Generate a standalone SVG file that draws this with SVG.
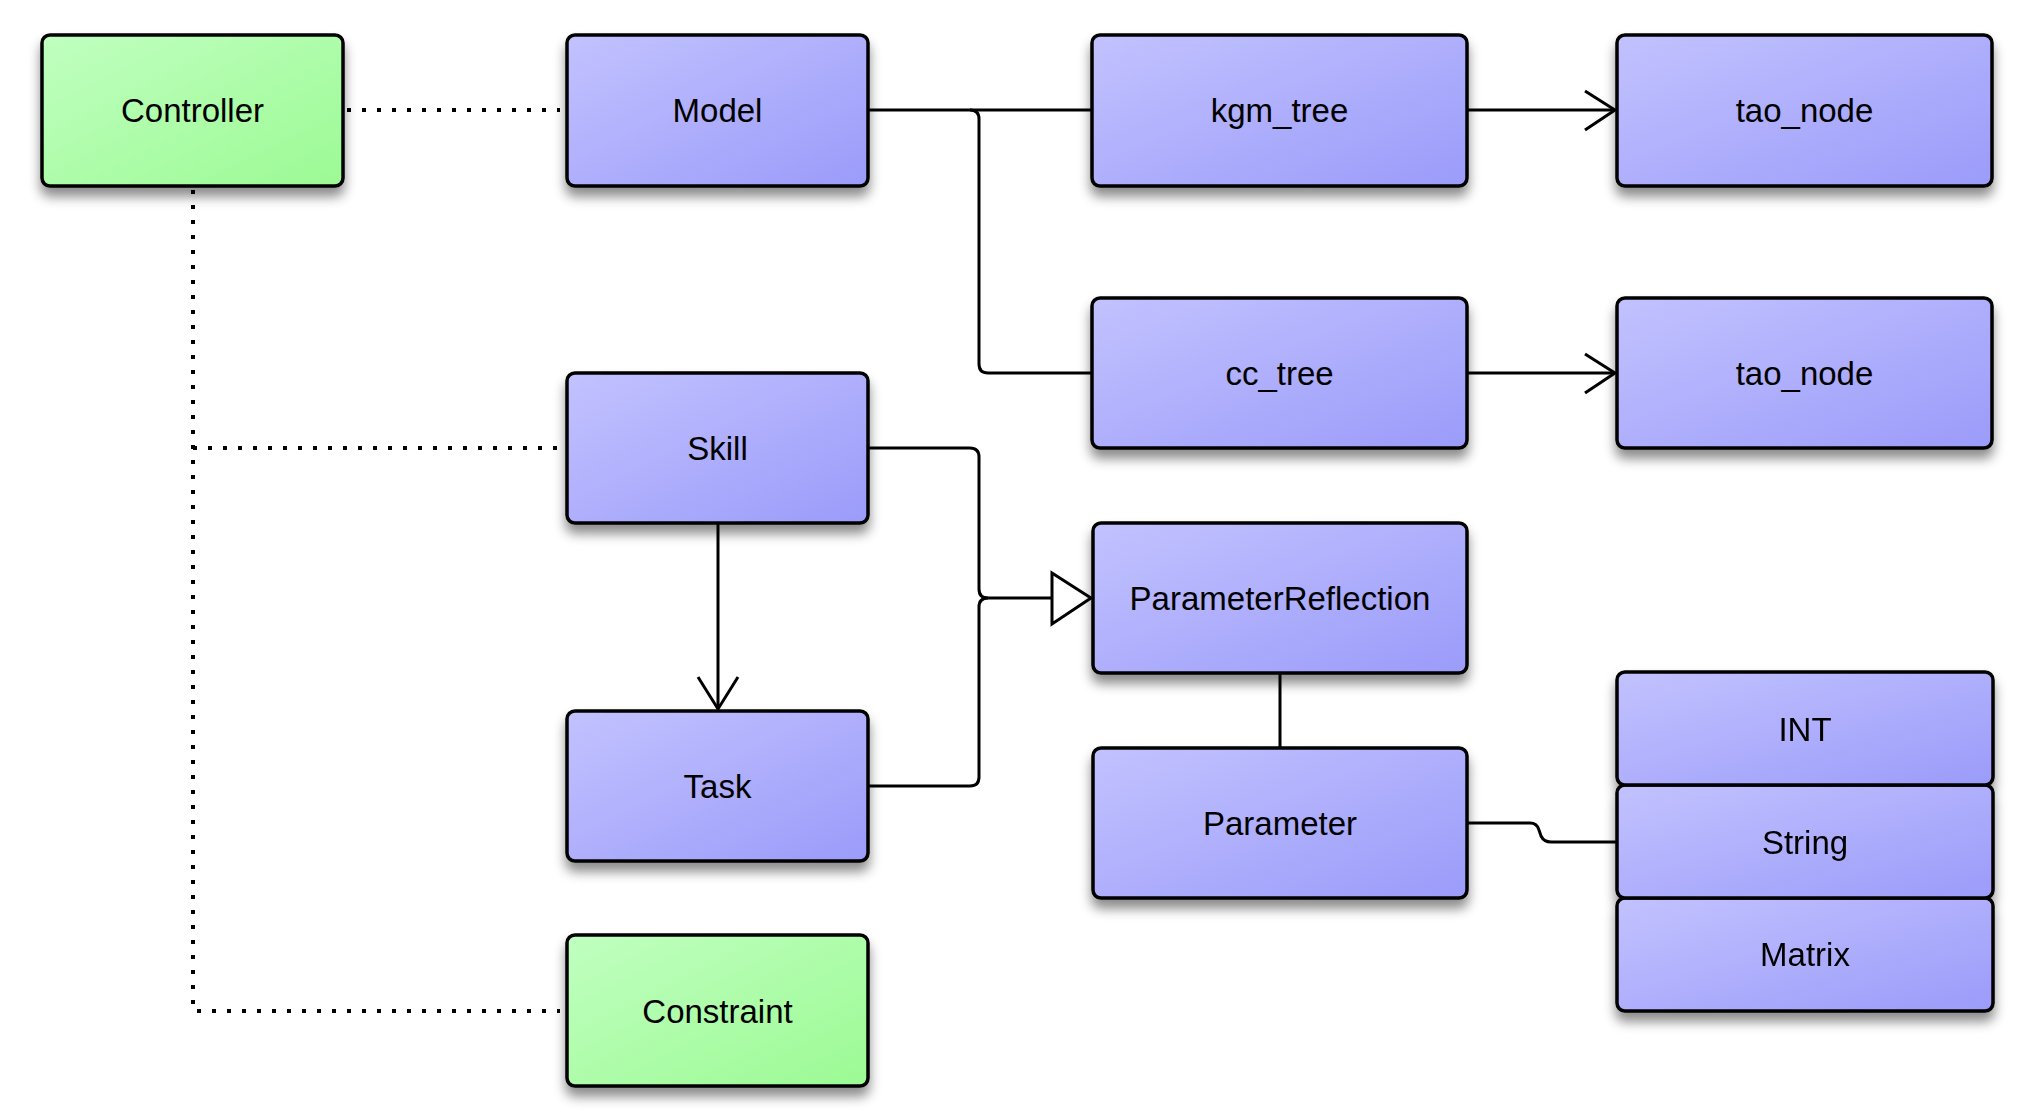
<svg xmlns="http://www.w3.org/2000/svg" width="2025" height="1116" viewBox="0 0 2025 1116">
<defs>
<linearGradient id="gb" x1="0" y1="0" x2="1" y2="1">
<stop offset="0" stop-color="#c2c2ff"/>
<stop offset="1" stop-color="#9b9bfa"/>
</linearGradient>
<linearGradient id="gg" x1="0" y1="0" x2="1" y2="1">
<stop offset="0" stop-color="#c0ffc0"/>
<stop offset="1" stop-color="#9cfa94"/>
</linearGradient>
<filter id="sh" x="-10%" y="-10%" width="120%" height="130%">
<feDropShadow dx="0" dy="9" stdDeviation="6" flood-color="#000" flood-opacity="0.45"/>
</filter>
</defs>
<style>
.b{fill:url(#gb);stroke:#000;stroke-width:3.5;filter:url(#sh)}
.g{fill:url(#gg);stroke:#000;stroke-width:3.5;filter:url(#sh)}
.s{fill:url(#gb);stroke:#000;stroke-width:3.5}
text{font-family:"Liberation Sans",Arial,sans-serif;font-size:33px;fill:#000;text-anchor:middle}
.c{fill:none;stroke:#000;stroke-width:3}
.d{fill:none;stroke:#000;stroke-width:4;stroke-dasharray:4 11}
</style>
<rect width="2025" height="1116" fill="#fff"/>
<g id="connectors">
<path class="d" d="M347,110 H560"/>
<path class="d" d="M193,190 V1011 H560"/>
<path class="d" d="M193,448 H560"/>
<path class="c" d="M868,110 H1092"/>
<path class="c" d="M970,110 Q979,110 979,119 V364 Q979,373 988,373 H1092"/>
<path class="c" d="M1467,110 H1615"/>
<polyline class="c" points="1585,91 1615,110 1585,130"/>
<path class="c" d="M1467,373 H1615"/>
<polyline class="c" points="1585,354 1615,373 1585,393"/>
<path class="c" d="M718,523 V709"/>
<polyline class="c" points="698,677 718,709 738,677"/>
<path class="c" d="M868,448 H970 Q979,448 979,457 V589 Q979,598 988,598 H1052"/>
<path class="c" d="M868,786 H970 Q979,786 979,777 V607 Q979,598 988,598"/>
<polygon points="1052,573 1091,598 1052,624" fill="#fff" stroke="#000" stroke-width="3"/>
<path class="c" d="M1280,673 V748"/>
<path class="c" d="M1467,823 H1530 Q1537,823 1539,830 L1541,836 Q1544,842 1551,842 H1617"/>
</g>
<g id="Controller"><rect class="g" x="42" y="35" width="301" height="151" rx="8"/><text x="192.5" y="122">Controller</text></g>
<g id="Model"><rect class="b" x="567" y="35" width="301" height="151" rx="8"/><text x="717.5" y="122">Model</text></g>
<g id="kgm_tree"><rect class="b" x="1092" y="35" width="375" height="151" rx="8"/><text x="1279.5" y="122">kgm_tree</text></g>
<g id="tao_node1"><rect class="b" x="1617" y="35" width="375" height="151" rx="8"/><text x="1804.5" y="122">tao_node</text></g>
<g id="cc_tree"><rect class="b" x="1092" y="298" width="375" height="150" rx="8"/><text x="1279.5" y="385">cc_tree</text></g>
<g id="tao_node2"><rect class="b" x="1617" y="298" width="375" height="150" rx="8"/><text x="1804.5" y="385">tao_node</text></g>
<g id="Skill"><rect class="b" x="567" y="373" width="301" height="150" rx="8"/><text x="717.5" y="460">Skill</text></g>
<g id="ParameterReflection"><rect class="b" x="1093" y="523" width="374" height="150" rx="8"/><text x="1280" y="610">ParameterReflection</text></g>
<g id="Task"><rect class="b" x="567" y="711" width="301" height="150" rx="8"/><text x="717.5" y="798">Task</text></g>
<g id="Parameter"><rect class="b" x="1093" y="748" width="374" height="150" rx="8"/><text x="1280" y="835">Parameter</text></g>
<g id="Constraint"><rect class="g" x="567" y="935" width="301" height="151" rx="8"/><text x="717.5" y="1023">Constraint</text></g>
<g id="types" filter="url(#sh)">
<g id="Matrix"><rect class="s" x="1617" y="898" width="376" height="113" rx="8"/><text x="1805" y="966">Matrix</text></g>
<g id="String"><rect class="s" x="1617" y="785" width="376" height="113" rx="8"/><text x="1805" y="854">String</text></g>
<g id="INT"><rect class="s" x="1617" y="672" width="376" height="113" rx="8"/><text x="1805" y="741">INT</text></g>
</g>
</svg>
